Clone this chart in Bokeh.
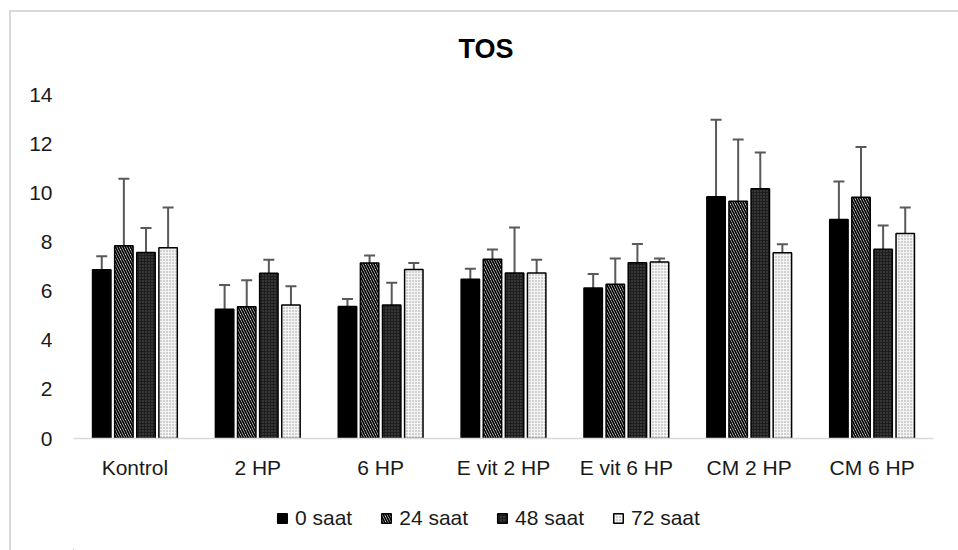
from bokeh.plotting import figure
from bokeh.layouts import column
from bokeh.models import (ColumnDataSource, FactorRange, Range1d, Whisker, TeeHead,
                          Legend, LegendItem, FixedTicker)
from bokeh.transform import dodge
from bokeh.embed import file_html
from bokeh.resources import INLINE

# TOS levels per treatment group, measured at four time points (mean and SD)
groups = ["Kontrol", "2 HP", "6 HP", "E vit 2 HP", "E vit 6 HP", "CM 2 HP", "CM 6 HP"]
series = ["0 saat", "24 saat", "48 saat", "72 saat"]

tos_0 = [6.87, 5.26, 5.37, 6.48, 6.12, 9.84, 8.91]
tos_24 = [7.84, 5.36, 7.14, 7.30, 6.28, 9.66, 9.82]
tos_48 = [7.57, 6.73, 5.43, 6.74, 7.15, 10.16, 7.70]
tos_72 = [7.76, 5.43, 6.88, 6.74, 7.18, 7.56, 8.34]

sd_0 = [0.55, 0.99, 0.31, 0.43, 0.57, 3.13, 1.55]
sd_24 = [2.73, 1.08, 0.31, 0.39, 1.05, 2.51, 2.04]
sd_48 = [1.00, 0.54, 0.91, 1.85, 0.77, 1.48, 0.97]
sd_72 = [1.64, 0.77, 0.26, 0.53, 0.15, 0.35, 1.06]

y_ticks = [0, 2, 4, 6, 8, 10, 12, 14]

means = [tos_0, tos_24, tos_48, tos_72]
sds = [sd_0, sd_24, sd_48, sd_72]

FONT = "Liberation Sans"

# fill / hatch style for each time point
styles = [
    dict(fill_color="black"),
    dict(fill_color="white", hatch_pattern="left_diagonal_line", hatch_color="black",
         hatch_scale=5, hatch_weight=1.7),
    dict(fill_color="#1e1e1e", hatch_pattern="dot", hatch_color="#5a5a5a",
         hatch_scale=3, hatch_weight=1),
    dict(fill_color="#f4f4f4", hatch_pattern="dot", hatch_color="#9a9a9a",
         hatch_scale=3, hatch_weight=1),
]
offsets = [-0.27, -0.09, 0.09, 0.27]

# ---- main bar chart -------------------------------------------------------
p = figure(x_range=FactorRange(factors=groups, range_padding=0),
           y_range=Range1d(0, 14),
           width=958, height=490, output_backend="svg", toolbar_location=None,
           min_border_left=73, min_border_right=25, min_border_top=94,
           min_border_bottom=52)

p.background_fill_color = "white"
p.border_fill_alpha = 0
p.outline_line_color = None
p.xgrid.grid_line_color = None
p.ygrid.grid_line_color = None

p.title.text = "TOS"
p.title.align = "left"
p.title.offset = 385
p.title.text_font = FONT
p.title.text_font_style = "bold"
p.title.text_font_size = "27px"
p.title.text_color = "black"
p.title.standoff = 62

for vals, err, off, st in zip(means, sds, offsets, styles):
    src = ColumnDataSource(dict(
        group=groups,
        top=vals,
        upper=[v + e for v, e in zip(vals, err)],
    ))
    p.vbar(x=dodge("group", off, range=p.x_range), top="top", width=0.15,
           source=src, line_color="black", line_width=1.5, **st)
    p.add_layout(Whisker(base=dodge("group", off, range=p.x_range), upper="upper",
                         lower="top", source=src, line_color="#595959", line_width=2,
                         upper_head=TeeHead(size=11, line_color="#595959", line_width=2),
                         lower_head=None))

p.xaxis.axis_line_color = "#d9d9d9"
p.xaxis.axis_line_width = 1.5
p.xaxis.major_tick_line_color = None
p.xaxis.minor_tick_line_color = None
p.xaxis.major_label_standoff = 11
p.xaxis.major_label_text_font = FONT
p.xaxis.major_label_text_font_size = "21px"
p.xaxis.major_label_text_color = "#1a1a1a"

p.yaxis.ticker = FixedTicker(ticks=y_ticks)
p.yaxis.axis_line_color = None
p.yaxis.major_tick_line_color = None
p.yaxis.minor_tick_line_color = None
p.yaxis.major_label_standoff = 15
p.yaxis.major_label_text_font = FONT
p.yaxis.major_label_text_font_size = "21px"
p.yaxis.major_label_text_color = "#1a1a1a"

# ---- legend strip below the chart ----------------------------------------
# (its frame is aligned with the chart frame by the column layout)
leg = figure(width=958, height=60, output_backend="svg", toolbar_location=None,
             x_range=Range1d(0, 1), y_range=Range1d(0, 1),
             x_axis_location=None, y_axis_location=None, min_border=0)
leg.background_fill_alpha = 0
leg.border_fill_alpha = 0
leg.outline_line_color = None
leg.xgrid.grid_line_color = None
leg.ygrid.grid_line_color = None

items = []
for name, st in zip(series, styles):
    # swatch-only renderer: a zero-size bar, only its style is used by the legend
    r = leg.vbar(x=[-1], top=[0], bottom=[0], width=0, line_color="black",
                 line_width=1.5, **st)
    items.append(LegendItem(label=name, renderers=[r]))

legend = Legend(items=items, orientation="horizontal", location=(203, 20),
                glyph_width=12, glyph_height=12, label_standoff=7, spacing=28,
                padding=0, margin=0, border_line_color=None,
                background_fill_alpha=0,
                label_text_font=FONT, label_text_font_size="21px",
                label_text_color="#1a1a1a")
leg.add_layout(legend)

# page with the thin light-grey chart frame along the top and left
layout = column(p, leg, spacing=0)
layout.styles = {
    "background-color": "white",
    "background-image": "linear-gradient(#d9d9d9, #d9d9d9), linear-gradient(#d9d9d9, #d9d9d9)",
    "background-size": "100% 2px, 2px 100%",
    "background-position": "10px 10px, 9px 10px",
    "background-repeat": "no-repeat",
}

open("out.html", "w").write(file_html(layout, INLINE))
